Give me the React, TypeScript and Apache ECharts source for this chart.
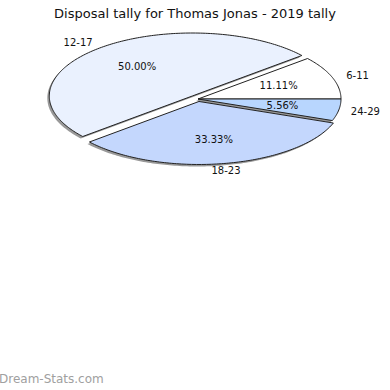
import React, { useEffect, useRef } from "react";
import * as echarts from "echarts";

const TITLE = "Disposal tally for Thomas Jonas - 2019 tally";
const WATERMARK = "Dream-Stats.com";
const categories = ["6-11", "12-17", "18-23", "24-29"];
const values = [2, 9, 6, 1];
const colors = ["#ffffff", "#eaf1fe", "#c4d7fd", "#b8d6fe"];
const explode = [0, 0.062, 0.04, 0];

const CX = 198;
const CY = 99;
const RX = 143;
const RY = 63;
const SHADOW_DX = -2;
const SHADOW_DY = 2;
const FONT = "DejaVu Sans";

const total = values.reduce((a, b) => a + b, 0);

function geom(i: number) {
  let before = 0;
  for (let k = 0; k < i; k++) before += values[k];
  const start = (before / total) * 360;
  const end = ((before + values[i]) / total) * 360;
  const mid = ((start + end) / 2) * Math.PI / 180;
  const dx = explode[i] * RX * Math.cos(mid);
  const dy = -explode[i] * RY * Math.sin(mid);
  return { start, end, mid, dx, dy };
}

function slicePoints(i: number, sx: number, sy: number) {
  const g = geom(i);
  const cx = CX + g.dx + sx;
  const cy = CY + g.dy + sy;
  const pts: number[][] = [[cx, cy]];
  const steps = Math.max(2, Math.ceil(g.end - g.start));
  for (let s = 0; s <= steps; s++) {
    const a = ((g.start + ((g.end - g.start) * s) / steps) * Math.PI) / 180;
    pts.push([cx + RX * Math.cos(a), cy - RY * Math.sin(a)]);
  }
  return pts;
}

export default function App() {
  const ref = useRef<HTMLDivElement>(null);
  useEffect(() => {
    if (!ref.current) return;
    const chart = echarts.init(ref.current, null, { renderer: "svg" });
    const data = values.map((v, i) => ({ name: categories[i], value: v }));
    chart.setOption({
      animation: false,
      backgroundColor: "#ffffff",
      title: {
        text: TITLE,
        left: "center",
        top: 2,
        textStyle: { fontFamily: FONT, fontSize: 13, fontWeight: "normal", color: "#111" },
      },
      graphic: [
        {
          type: "text",
          left: -1,
          top: 373,
          style: { text: WATERMARK, fontFamily: FONT, fontSize: 12, fill: "#a0a0a0" },
        },
      ],
      series: [
        {
          type: "custom",
          coordinateSystem: "none",
          data,
          silent: true,
          renderItem: (params: any, api: any) => {
            const i = params.dataIndex;
            return {
              type: "polygon",
              shape: { points: slicePoints(i, SHADOW_DX, SHADOW_DY) },
              style: { fill: "#999999", stroke: "none" },
            };
          },
        },
        {
          type: "custom",
          coordinateSystem: "none",
          data,
          silent: true,
          renderItem: (params: any, api: any) => {
            const i = params.dataIndex;
            const v = api.value(0);
            const g = geom(i);
            const c = Math.cos(g.mid);
            const s = Math.sin(g.mid);
            const pct = ((v / total) * 100).toFixed(2) + "%";
            return {
              type: "group",
              children: [
                {
                  type: "polygon",
                  shape: { points: slicePoints(i, 0, 0) },
                  style: { fill: colors[i], stroke: "#222", lineWidth: 1, lineJoin: "miter" },
                },
                {
                  type: "text",
                  x: CX + g.dx + RX * 0.6 * c,
                  y: CY + g.dy - RY * 0.62 * s,
                  style: {
                    text: pct,
                    fontFamily: FONT,
                    fontSize: 10,
                    fill: "#111",
                    align: "center",
                    verticalAlign: "middle",
                  },
                },
                {
                  type: "text",
                  x: CX - 3 + g.dx + RX * 1.21 * c,
                  y: CY + g.dy - RY * 1.11 * s,
                  style: {
                    text: categories[i],
                    fontFamily: FONT,
                    fontSize: 10,
                    fill: "#111",
                    align: "center",
                    verticalAlign: "middle",
                  },
                },
              ],
            };
          },
        },
      ],
    });
    return () => chart.dispose();
  }, []);
  return (
    <div
      ref={ref}
      style={{ position: "fixed", left: 0, top: 0, width: 390, height: 390 }}
    />
  );
}
